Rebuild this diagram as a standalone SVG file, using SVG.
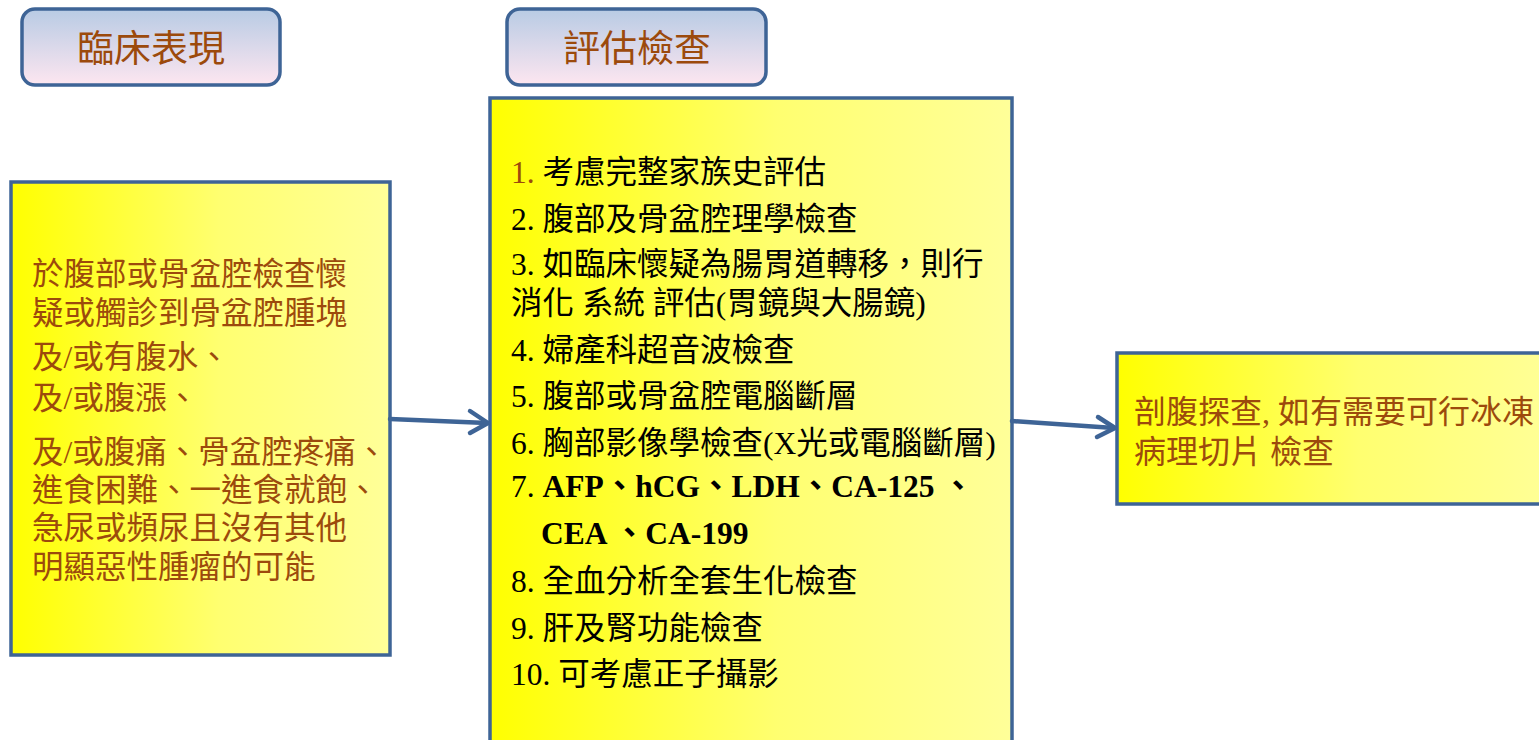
<svg xmlns="http://www.w3.org/2000/svg" width="1539" height="740" viewBox="0 0 1539 740">
  <defs>
    <linearGradient id="hdr" x1="0" y1="0" x2="0" y2="1">
      <stop offset="0" stop-color="#b8cbe4"/>
      <stop offset="1" stop-color="#fde6f0"/>
    </linearGradient>
    <linearGradient id="yel" x1="0" y1="0" x2="1" y2="0">
      <stop offset="0" stop-color="#ffff00"/>
      <stop offset="0.55" stop-color="#ffff70"/>
      <stop offset="1" stop-color="#ffff99"/>
    </linearGradient>
    <linearGradient id="yelR" gradientUnits="userSpaceOnUse" x1="1117" y1="0" x2="1560" y2="0">
      <stop offset="0" stop-color="#ffff00"/>
      <stop offset="0.55" stop-color="#ffff70"/>
      <stop offset="1" stop-color="#ffff99"/>
    </linearGradient>
    <style>
      .hbox { fill: url(#hdr); stroke: #3e6496; stroke-width: 3.5; }
      .ybox { fill: url(#yel); stroke: #3e6496; stroke-width: 3.5; }
      .htxt { font-family: "Noto Sans CJK TC", "Liberation Serif", sans-serif; font-size: 37px; fill: #9c4a0c; text-anchor: middle; }
      .btxt { font-family: "Liberation Serif", "Noto Sans CJK TC", serif; font-size: 31.5px; fill: #9c4a0c; }
      .mtxt { font-family: "Liberation Serif", "Noto Sans CJK TC", serif; font-size: 31.5px; fill: #000000; }
      .bold { font-weight: bold; }
      .brown { fill: #9c4a0c; }
      .conn { fill: none; stroke: #3e6496; stroke-width: 4.5; stroke-linecap: round; stroke-linejoin: round; }
    </style>
  </defs>

  <g id="header-clinical">
    <rect class="hbox" x="22" y="9" width="258" height="76" rx="13"/>
    <text class="htxt" x="151" y="62">臨床表現</text>
  </g>

  <g id="header-eval">
    <rect class="hbox" x="507" y="9" width="259" height="76" rx="13"/>
    <text class="htxt" x="637" y="62">評估檢查</text>
  </g>

  <g id="node-clinical">
    <rect class="ybox" x="11" y="182" width="379" height="473"/>
    <text class="btxt">
      <tspan x="32" y="285">於腹部或骨盆腔檢查懷</tspan>
      <tspan x="32" y="324">疑或觸診到骨盆腔腫塊</tspan>
      <tspan x="32" y="368">及/或有腹水、</tspan>
      <tspan x="32" y="409">及/或腹漲、</tspan>
      <tspan x="32" y="463">及/或腹痛、骨盆腔疼痛、</tspan>
      <tspan x="32" y="501">進食困難、一進食就飽、</tspan>
      <tspan x="32" y="539">急尿或頻尿且沒有其他</tspan>
      <tspan x="32" y="578">明顯惡性腫瘤的可能</tspan>
    </text>
  </g>

  <g id="node-eval">
    <rect class="ybox" x="490" y="98" width="522" height="660"/>
    <text class="mtxt">
      <tspan x="511" y="183"><tspan class="brown">1.</tspan> 考慮完整家族史評估</tspan>
      <tspan x="511" y="230">2. 腹部及骨盆腔理學檢查</tspan>
      <tspan x="511" y="275">3. 如臨床懷疑為腸胃道轉移，則行</tspan>
      <tspan x="511" y="314">消化 系統 評估(胃鏡與大腸鏡)</tspan>
      <tspan x="511" y="361">4. 婦產科超音波檢查</tspan>
      <tspan x="511" y="407">5. 腹部或骨盆腔電腦斷層</tspan>
      <tspan x="511" y="454">6. 胸部影像學檢查(X光或電腦斷層)</tspan>
      <tspan x="511" y="497">7. <tspan class="bold">AFP、hCG、LDH、CA-125 、</tspan></tspan>
      <tspan x="541" y="544" class="bold">CEA 、CA-199</tspan>
      <tspan x="511" y="592">8. 全血分析全套生化檢查</tspan>
      <tspan x="511" y="639">9. 肝及腎功能檢查</tspan>
      <tspan x="511" y="685">10. 可考慮正子攝影</tspan>
    </text>
  </g>

  <g id="node-surgery">
    <rect x="1117" y="353" width="440" height="151" fill="url(#yelR)" stroke="#3e6496" stroke-width="3.5"/>
    <text class="btxt" style="font-size:32px">
      <tspan x="1134" y="423">剖腹探查, 如有需要可行冰凍</tspan>
      <tspan x="1134" y="463">病理切片 檢查</tspan>
    </text>
  </g>

  <g id="connectors">
    <path class="conn" d="M390,419 L487,423"/>
    <path class="conn" d="M470,411 L488,423 L470,433"/>
    <path class="conn" d="M1012,421 L1114,428"/>
    <path class="conn" d="M1098,417 L1115,428 L1097,437"/>
  </g>
</svg>
